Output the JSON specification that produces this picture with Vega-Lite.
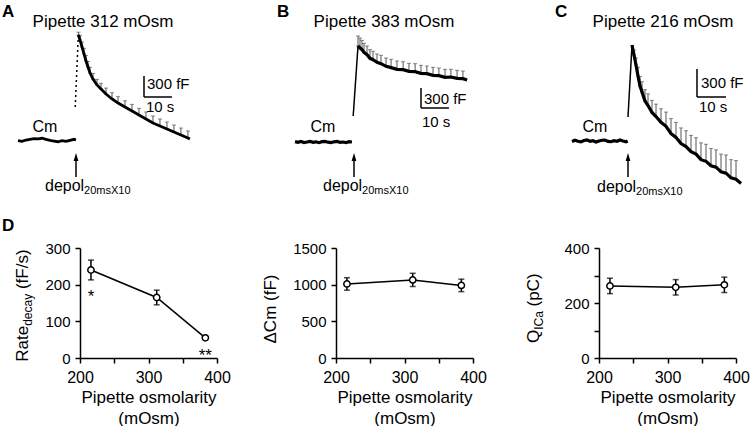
{
"$schema": "https://vega.github.io/schema/vega-lite/v6.json",
"padding": {"left": 2, "top": 3, "right": 0, "bottom": 0},
"autosize": {"type": "pad"},
"config": {
  "font": "Liberation Sans",
  "view": {"stroke": null},
  "axis": {"grid": false, "domainColor": "black", "domainWidth": 1.5, "tickColor": "black", "tickWidth": 1.5, "tickSize": 5, "labelColor": "black", "labelFontSize": 15, "titleColor": "black", "titleFontSize": 17, "titleFontWeight": "normal", "labelFlush": false, "labelOverlap": false},
  "axisX": {"labelFontSize": 16, "labelPadding": 6, "titlePadding": 4, "titleLineHeight": 21},
  "axisY": {"labelPadding": 5}
},
"datasets": {
  "A": [
    {"seg":"base","t":-21.18,"cm":-10},{"seg":"base","t":-19.74,"cm":-20},{"seg":"base","t":-18.31,"cm":0},{"seg":"base","t":-16.88,"cm":10},
    {"seg":"base","t":-15.45,"cm":20},{"seg":"base","t":-14.02,"cm":15},{"seg":"base","t":-12.59,"cm":25},{"seg":"base","t":-11.16,"cm":10},
    {"seg":"base","t":-9.73,"cm":-5},{"seg":"base","t":-8.3,"cm":-15},{"seg":"base","t":-6.87,"cm":-25},{"seg":"base","t":-5.44,"cm":-10},
    {"seg":"base","t":-4.01,"cm":-20},{"seg":"base","t":-2.58,"cm":-5},{"seg":"base","t":-1.15,"cm":10},{"seg":"base","t":-0.43,"cm":0},
    {"seg":"jump","t":-0.7,"cm":471},{"seg":"jump","t":0.4,"cm":1500},
    {"seg":"decay","t":0.46,"cm":1500,"hi":1540},{"seg":"decay","t":1.0,"cm":1429,"hi":1489},{"seg":"decay","t":1.72,"cm":1329,"hi":1399},
    {"seg":"decay","t":2.43,"cm":1229,"hi":1309},{"seg":"decay","t":3.15,"cm":1129,"hi":1209},{"seg":"decay","t":3.86,"cm":1043,"hi":1123},
    {"seg":"decay","t":4.58,"cm":957,"hi":1037},{"seg":"decay","t":5.65,"cm":871,"hi":951},{"seg":"decay","t":7.08,"cm":786,"hi":866},
    {"seg":"decay","t":8.51,"cm":729,"hi":809},{"seg":"decay","t":10.3,"cm":657,"hi":742},{"seg":"decay","t":12.45,"cm":586,"hi":676},
    {"seg":"decay","t":14.6,"cm":529,"hi":619},{"seg":"decay","t":17.1,"cm":471,"hi":561},{"seg":"decay","t":19.6,"cm":414,"hi":509},
    {"seg":"decay","t":22.1,"cm":357,"hi":452},{"seg":"decay","t":24.6,"cm":300,"hi":400},{"seg":"decay","t":27.1,"cm":243,"hi":343},
    {"seg":"decay","t":29.6,"cm":200,"hi":300},{"seg":"decay","t":32.1,"cm":157,"hi":257},{"seg":"decay","t":34.6,"cm":114,"hi":214},
    {"seg":"decay","t":37.1,"cm":71,"hi":171},{"seg":"decay","t":39.6,"cm":29,"hi":129},{"seg":"decay","t":40.3,"cm":14}
  ],
  "B": [
    {"seg":"base","t":-20.66,"cm":5},{"seg":"base","t":-19.59,"cm":-5},{"seg":"base","t":-18.52,"cm":8},{"seg":"base","t":-17.44,"cm":-8},
    {"seg":"base","t":-16.37,"cm":0},{"seg":"base","t":-15.3,"cm":10},{"seg":"base","t":-14.23,"cm":-5},{"seg":"base","t":-13.15,"cm":3},
    {"seg":"base","t":-12.08,"cm":-10},{"seg":"base","t":-11.01,"cm":5},{"seg":"base","t":-9.94,"cm":8},{"seg":"base","t":-8.86,"cm":-3},
    {"seg":"base","t":-7.79,"cm":-8},{"seg":"base","t":-6.72,"cm":3},{"seg":"base","t":-5.65,"cm":10},{"seg":"base","t":-4.57,"cm":-5},
    {"seg":"base","t":-3.5,"cm":0},{"seg":"base","t":-2.43,"cm":-10},{"seg":"base","t":-1.36,"cm":5},{"seg":"base","t":-0.29,"cm":0},
    {"seg":"jump","t":0.15,"cm":390},{"seg":"jump","t":1.87,"cm":1440},
    {"seg":"decay","t":1.87,"cm":1440,"hi":1590},{"seg":"decay","t":2.58,"cm":1410,"hi":1560},{"seg":"decay","t":3.3,"cm":1385,"hi":1525},
    {"seg":"decay","t":4.01,"cm":1345,"hi":1480},{"seg":"decay","t":5.09,"cm":1310,"hi":1440},{"seg":"decay","t":6.16,"cm":1255,"hi":1385},
    {"seg":"decay","t":7.23,"cm":1235,"hi":1360},{"seg":"decay","t":8.66,"cm":1195,"hi":1320},{"seg":"decay","t":10.1,"cm":1175,"hi":1300},
    {"seg":"decay","t":11.9,"cm":1135,"hi":1260},{"seg":"decay","t":13.7,"cm":1115,"hi":1240},{"seg":"decay","t":15.8,"cm":1090,"hi":1215},
    {"seg":"decay","t":18.0,"cm":1085,"hi":1205},{"seg":"decay","t":20.1,"cm":1060,"hi":1180},{"seg":"decay","t":22.3,"cm":1055,"hi":1175},
    {"seg":"decay","t":24.4,"cm":1030,"hi":1150},{"seg":"decay","t":26.5,"cm":1025,"hi":1140},{"seg":"decay","t":28.7,"cm":1000,"hi":1120},
    {"seg":"decay","t":30.8,"cm":995,"hi":1110},{"seg":"decay","t":33.0,"cm":970,"hi":1090},{"seg":"decay","t":35.1,"cm":975,"hi":1090},
    {"seg":"decay","t":37.3,"cm":955,"hi":1075},{"seg":"decay","t":39.4,"cm":950,"hi":1065},{"seg":"decay","t":40.9,"cm":930}
  ],
  "C": [
    {"seg":"base","t":-19.31,"cm":-5},{"seg":"base","t":-18.28,"cm":8},{"seg":"base","t":-17.24,"cm":-3},{"seg":"base","t":-16.21,"cm":-10},
    {"seg":"base","t":-15.17,"cm":5},{"seg":"base","t":-14.14,"cm":12},{"seg":"base","t":-13.1,"cm":-3},{"seg":"base","t":-12.07,"cm":3},
    {"seg":"base","t":-11.03,"cm":-12},{"seg":"base","t":-10.0,"cm":0},{"seg":"base","t":-8.97,"cm":8},{"seg":"base","t":-7.93,"cm":10},
    {"seg":"base","t":-6.9,"cm":-5},{"seg":"base","t":-5.86,"cm":-8},{"seg":"base","t":-4.83,"cm":3},{"seg":"base","t":-3.79,"cm":-3},
    {"seg":"base","t":-2.76,"cm":10},{"seg":"base","t":-1.72,"cm":0},{"seg":"base","t":-0.69,"cm":-8},{"seg":"base","t":-0.1,"cm":0},
    {"seg":"jump","t":0.0,"cm":257},{"seg":"jump","t":1.38,"cm":1029},
    {"seg":"decay","t":1.38,"cm":1029},{"seg":"decay","t":2.07,"cm":921,"hi":975},{"seg":"decay","t":2.76,"cm":814,"hi":890},
    {"seg":"decay","t":3.45,"cm":696,"hi":790},{"seg":"decay","t":4.14,"cm":589,"hi":690},{"seg":"decay","t":4.83,"cm":524,"hi":635},
    {"seg":"decay","t":5.86,"cm":429,"hi":550},{"seg":"decay","t":6.9,"cm":380,"hi":505},{"seg":"decay","t":8.28,"cm":306,"hi":435},
    {"seg":"decay","t":9.66,"cm":262,"hi":395},{"seg":"decay","t":11.38,"cm":200,"hi":345},{"seg":"decay","t":13.1,"cm":158,"hi":310},
    {"seg":"decay","t":14.83,"cm":80,"hi":240},{"seg":"decay","t":16.55,"cm":38,"hi":200},{"seg":"decay","t":18.28,"cm":-28,"hi":140},
    {"seg":"decay","t":20.0,"cm":-60,"hi":110},{"seg":"decay","t":21.72,"cm":-115,"hi":60},{"seg":"decay","t":23.45,"cm":-140,"hi":35},
    {"seg":"decay","t":25.17,"cm":-200,"hi":-20},{"seg":"decay","t":26.9,"cm":-218,"hi":-35},{"seg":"decay","t":28.62,"cm":-265,"hi":-80},
    {"seg":"decay","t":30.34,"cm":-280,"hi":-95},{"seg":"decay","t":32.07,"cm":-330,"hi":-140},{"seg":"decay","t":33.79,"cm":-345,"hi":-150},
    {"seg":"decay","t":35.52,"cm":-395,"hi":-200},{"seg":"decay","t":37.24,"cm":-410,"hi":-210},{"seg":"decay","t":38.97,"cm":-455}
  ],
  "D1": [
    {"osm":216,"mean":240,"lo":213,"hi":267,"sig":"*"},
    {"osm":312,"mean":165,"lo":145,"hi":185,"sig":""},
    {"osm":383,"mean":55,"lo":52,"hi":58,"sig":"**"}
  ],
  "D2": [
    {"osm":216,"mean":1010,"lo":925,"hi":1095},
    {"osm":312,"mean":1065,"lo":975,"hi":1155},
    {"osm":383,"mean":990,"lo":905,"hi":1075}
  ],
  "D3": [
    {"osm":216,"mean":262,"lo":234,"hi":290},
    {"osm":312,"mean":257,"lo":229,"hi":285},
    {"osm":383,"mean":266,"lo":238,"hi":294}
  ]
},
"columns": 3,
"align": "each",
"bounds": "flush",
"spacing": {"row": 94, "column": 119},
"concat": [
  {
    "width": 137, "height": 119,
    "data": {"name": "A"},
    "layer": [
      {"transform": [{"filter": "isValid(datum.hi)"}],
       "mark": {"type": "errorbar", "color": "#555", "thickness": 1, "ticks": {"size": 4}},
       "encoding": {"x": {"field": "t", "type": "quantitative", "scale": {"domain": [1, 50], "nice": false, "zero": false}, "axis": null},
                    "y": {"field": "cm", "type": "quantitative", "scale": {"domain": [-200, 1500], "nice": false, "zero": false}, "axis": null},
                    "y2": {"field": "hi"}}},
      {"transform": [{"filter": "datum.seg !== 'jump'"}],
       "mark": {"type": "line", "color": "black", "strokeWidth": 2.8},
       "encoding": {"x": {"field": "t", "type": "quantitative", "scale": {"domain": [1, 50], "nice": false, "zero": false}, "axis": null},
                    "y": {"field": "cm", "type": "quantitative", "scale": {"domain": [-200, 1500], "nice": false, "zero": false}, "axis": null},
                    "detail": {"field": "seg"}}},
      {"transform": [{"filter": "datum.seg === 'jump'"}],
       "mark": {"type": "line", "color": "black", "strokeWidth": 1.5, "strokeDash": [2, 3]},
       "encoding": {"x": {"field": "t", "type": "quantitative", "axis": null},
                    "y": {"field": "cm", "type": "quantitative", "axis": null}}},
      {"data": {"values": [{}]}, "mark": {"type": "text", "fontSize": 17, "fontWeight": "bold", "align": "left", "baseline": "middle"},
       "encoding": {"x": {"datum": -26.862, "axis": null}, "y": {"datum": 1827, "axis": null}, "text": {"value": "A"}}},
      {"data": {"values": [{}]}, "mark": {"type": "text", "fontSize": 17, "align": "center", "baseline": "middle"},
       "encoding": {"x": {"datum": 9.226, "axis": null}, "y": {"datum": 1685.7, "axis": null}, "text": {"value": "Pipette 312 mOsm"}}},
      {"data": {"values": [{}]}, "mark": {"type": "text", "fontSize": 16, "align": "center", "baseline": "middle"},
       "encoding": {"x": {"datum": -11.518, "axis": null}, "y": {"datum": 185.7, "axis": null}, "text": {"value": "Cm"}}},
      {"data": {"values": [{}]}, "mark": {"type": "rule", "color": "black", "strokeWidth": 1.5},
       "encoding": {"x": {"datum": -0.431, "axis": null}, "y": {"datum": -528.6, "axis": null}, "y2": {"datum": -271.4}}},
      {"data": {"values": [{}]}, "mark": {"type": "point", "shape": "M0,-1L0.6,1L-0.6,1Z", "filled": true, "size": 64, "color": "black", "opacity": 1},
       "encoding": {"x": {"datum": -0.431, "axis": null}, "y": {"datum": -242.9, "axis": null}}},
      {"data": {"values": [{}]}, "mark": {"type": "text", "fontSize": 16, "align": "left", "baseline": "alphabetic"},
       "encoding": {"x": {"datum": -11.518, "axis": null}, "y": {"datum": -728.6, "axis": null}, "text": {"value": "depol"}}},
      {"data": {"values": [{}]}, "mark": {"type": "text", "fontSize": 11, "align": "left", "baseline": "alphabetic", "dx": 39.1, "dy": 3},
       "encoding": {"x": {"datum": -11.518, "axis": null}, "y": {"datum": -728.6, "axis": null}, "text": {"value": "20msX10"}}},
      {"data": {"values": [{}]}, "mark": {"type": "rule", "color": "black", "strokeWidth": 1.5},
       "encoding": {"x": {"datum": 23.89, "axis": null}, "y": {"datum": 614.3, "axis": null}, "y2": {"datum": 914.3}}},
      {"data": {"values": [{}]}, "mark": {"type": "rule", "color": "black", "strokeWidth": 1.5},
       "encoding": {"x": {"datum": 23.89, "axis": null}, "x2": {"datum": 33.89}, "y": {"datum": 614.3, "axis": null}}},
      {"data": {"values": [{}]}, "mark": {"type": "text", "fontSize": 15, "align": "left", "baseline": "middle"},
       "encoding": {"x": {"datum": 24.96, "axis": null}, "y": {"datum": 800, "axis": null}, "text": {"value": "300 fF"}}},
      {"data": {"values": [{}]}, "mark": {"type": "text", "fontSize": 15, "align": "left", "baseline": "middle"},
       "encoding": {"x": {"datum": 24.61, "axis": null}, "y": {"datum": 471.4, "axis": null}, "text": {"value": "10 s"}}}
    ]
  },
  {
    "width": 144, "height": 119,
    "data": {"name": "B"},
    "layer": [
      {"transform": [{"filter": "isValid(datum.hi)"}],
       "mark": {"type": "errorbar", "color": "#555", "thickness": 1, "ticks": {"size": 4}},
       "encoding": {"x": {"field": "t", "type": "quantitative", "scale": {"domain": [-6, 45.503], "nice": false, "zero": false}, "axis": null},
                    "y": {"field": "cm", "type": "quantitative", "scale": {"domain": [-180, 1605], "nice": false, "zero": false}, "axis": null},
                    "y2": {"field": "hi"}}},
      {"transform": [{"filter": "datum.seg !== 'jump'"}],
       "mark": {"type": "line", "color": "black", "strokeWidth": 3.2},
       "encoding": {"x": {"field": "t", "type": "quantitative", "scale": {"domain": [-6, 45.503], "nice": false, "zero": false}, "axis": null},
                    "y": {"field": "cm", "type": "quantitative", "scale": {"domain": [-180, 1605], "nice": false, "zero": false}, "axis": null},
                    "detail": {"field": "seg"}}},
      {"transform": [{"filter": "datum.seg === 'jump'"}],
       "mark": {"type": "line", "color": "black", "strokeWidth": 1.5},
       "encoding": {"x": {"field": "t", "type": "quantitative", "axis": null},
                    "y": {"field": "cm", "type": "quantitative", "axis": null}}},
      {"data": {"values": [{}]}, "mark": {"type": "text", "fontSize": 17, "fontWeight": "bold", "align": "left", "baseline": "middle"},
       "encoding": {"x": {"datum": -27.07, "axis": null}, "y": {"datum": 1948, "axis": null}, "text": {"value": "B"}}},
      {"data": {"values": [{}]}, "mark": {"type": "text", "fontSize": 17, "align": "center", "baseline": "middle"},
       "encoding": {"x": {"datum": 11.168, "axis": null}, "y": {"datum": 1800, "axis": null}, "text": {"value": "Pipette 383 mOsm"}}},
      {"data": {"values": [{}]}, "mark": {"type": "text", "fontSize": 16, "align": "center", "baseline": "middle"},
       "encoding": {"x": {"datum": -10.65, "axis": null}, "y": {"datum": 225, "axis": null}, "text": {"value": "Cm"}}},
      {"data": {"values": [{}]}, "mark": {"type": "rule", "color": "black", "strokeWidth": 1.5},
       "encoding": {"x": {"datum": 0.438, "axis": null}, "y": {"datum": -525, "axis": null}, "y2": {"datum": -255}}},
      {"data": {"values": [{}]}, "mark": {"type": "point", "shape": "M0,-1L0.6,1L-0.6,1Z", "filled": true, "size": 64, "color": "black", "opacity": 1},
       "encoding": {"x": {"datum": 0.438, "axis": null}, "y": {"datum": -225, "axis": null}}},
      {"data": {"values": [{}]}, "mark": {"type": "text", "fontSize": 16, "align": "left", "baseline": "alphabetic"},
       "encoding": {"x": {"datum": -10.65, "axis": null}, "y": {"datum": -735, "axis": null}, "text": {"value": "depol"}}},
      {"data": {"values": [{}]}, "mark": {"type": "text", "fontSize": 11, "align": "left", "baseline": "alphabetic", "dx": 39.1, "dy": 3},
       "encoding": {"x": {"datum": -10.65, "axis": null}, "y": {"datum": -735, "axis": null}, "text": {"value": "20msX10"}}},
      {"data": {"values": [{}]}, "mark": {"type": "rule", "color": "black", "strokeWidth": 1.5},
       "encoding": {"x": {"datum": 24.4, "axis": null}, "y": {"datum": 510, "axis": null}, "y2": {"datum": 810}}},
      {"data": {"values": [{}]}, "mark": {"type": "rule", "color": "black", "strokeWidth": 1.5},
       "encoding": {"x": {"datum": 24.4, "axis": null}, "x2": {"datum": 34.4}, "y": {"datum": 510, "axis": null}}},
      {"data": {"values": [{}]}, "mark": {"type": "text", "fontSize": 15, "align": "left", "baseline": "middle"},
       "encoding": {"x": {"datum": 25.47, "axis": null}, "y": {"datum": 645, "axis": null}, "text": {"value": "300 fF"}}},
      {"data": {"values": [{}]}, "mark": {"type": "text", "fontSize": 15, "align": "left", "baseline": "middle"},
       "encoding": {"x": {"datum": 24.76, "axis": null}, "y": {"datum": 300, "axis": null}, "text": {"value": "10 s"}}}
    ]
  },
  {
    "width": 137, "height": 119,
    "data": {"name": "C"},
    "layer": [
      {"transform": [{"filter": "isValid(datum.hi)"}],
       "mark": {"type": "errorbar", "color": "#555", "thickness": 1, "ticks": {"size": 4}},
       "encoding": {"x": {"field": "t", "type": "quantitative", "scale": {"domain": [-10, 37.24], "nice": false, "zero": false}, "axis": null},
                    "y": {"field": "cm", "type": "quantitative", "scale": {"domain": [-139.3, 1135.7], "nice": false, "zero": false}, "axis": null},
                    "y2": {"field": "hi"}}},
      {"transform": [{"filter": "datum.seg !== 'jump'"}],
       "mark": {"type": "line", "color": "black", "strokeWidth": 3.2},
       "encoding": {"x": {"field": "t", "type": "quantitative", "scale": {"domain": [-10, 37.24], "nice": false, "zero": false}, "axis": null},
                    "y": {"field": "cm", "type": "quantitative", "scale": {"domain": [-139.3, 1135.7], "nice": false, "zero": false}, "axis": null},
                    "detail": {"field": "seg"}}},
      {"transform": [{"filter": "datum.seg === 'jump'"}],
       "mark": {"type": "line", "color": "black", "strokeWidth": 1.5},
       "encoding": {"x": {"field": "t", "type": "quantitative", "axis": null},
                    "y": {"field": "cm", "type": "quantitative", "axis": null}}},
      {"data": {"values": [{}]}, "mark": {"type": "text", "fontSize": 17, "fontWeight": "bold", "align": "left", "baseline": "middle"},
       "encoding": {"x": {"datum": -25.17, "axis": null}, "y": {"datum": 1380, "axis": null}, "text": {"value": "C"}}},
      {"data": {"values": [{}]}, "mark": {"type": "text", "fontSize": 17, "align": "center", "baseline": "middle"},
       "encoding": {"x": {"datum": 12.07, "axis": null}, "y": {"datum": 1275, "axis": null}, "text": {"value": "Pipette 216 mOsm"}}},
      {"data": {"values": [{}]}, "mark": {"type": "text", "fontSize": 16, "align": "center", "baseline": "middle"},
       "encoding": {"x": {"datum": -11.38, "axis": null}, "y": {"datum": 150, "axis": null}, "text": {"value": "Cm"}}},
      {"data": {"values": [{}]}, "mark": {"type": "rule", "color": "black", "strokeWidth": 1.5},
       "encoding": {"x": {"datum": 0, "axis": null}, "y": {"datum": -385.7, "axis": null}, "y2": {"datum": -192.9}}},
      {"data": {"values": [{}]}, "mark": {"type": "point", "shape": "M0,-1L0.6,1L-0.6,1Z", "filled": true, "size": 64, "color": "black", "opacity": 1},
       "encoding": {"x": {"datum": 0, "axis": null}, "y": {"datum": -171.4, "axis": null}}},
      {"data": {"values": [{}]}, "mark": {"type": "text", "fontSize": 16, "align": "left", "baseline": "alphabetic"},
       "encoding": {"x": {"datum": -10.69, "axis": null}, "y": {"datum": -546.4, "axis": null}, "text": {"value": "depol"}}},
      {"data": {"values": [{}]}, "mark": {"type": "text", "fontSize": 11, "align": "left", "baseline": "alphabetic", "dx": 39.1, "dy": 3},
       "encoding": {"x": {"datum": -10.69, "axis": null}, "y": {"datum": -546.4, "axis": null}, "text": {"value": "20msX10"}}},
      {"data": {"values": [{}]}, "mark": {"type": "rule", "color": "black", "strokeWidth": 1.5},
       "encoding": {"x": {"datum": 23.79, "axis": null}, "y": {"datum": 471.4, "axis": null}, "y2": {"datum": 771.4}}},
      {"data": {"values": [{}]}, "mark": {"type": "rule", "color": "black", "strokeWidth": 1.5},
       "encoding": {"x": {"datum": 23.79, "axis": null}, "x2": {"datum": 33.79}, "y": {"datum": 471.4, "axis": null}}},
      {"data": {"values": [{}]}, "mark": {"type": "text", "fontSize": 15, "align": "left", "baseline": "middle"},
       "encoding": {"x": {"datum": 25.17, "axis": null}, "y": {"datum": 621.4, "axis": null}, "text": {"value": "300 fF"}}},
      {"data": {"values": [{}]}, "mark": {"type": "text", "fontSize": 15, "align": "left", "baseline": "middle"},
       "encoding": {"x": {"datum": 24.48, "axis": null}, "y": {"datum": 364.3, "axis": null}, "text": {"value": "10 s"}}}
    ]
  },
  {
    "width": 137, "height": 110,
    "data": {"name": "D1"},
    "layer": [
      {"mark": {"type": "line", "color": "black", "strokeWidth": 1.5},
       "encoding": {"x": {"field": "osm", "type": "quantitative", "scale": {"domain": [200, 400], "nice": false, "zero": false},
                          "axis": {"values": [200, 250, 300, 350, 400], "labelExpr": "datum.value % 100 === 0 ? datum.label : ''", "title": ["Pipette osmolarity", "(mOsm)"]}},
                    "y": {"field": "mean", "type": "quantitative", "scale": {"domain": [0, 300], "nice": false, "zero": false},
                          "axis": {"values": [0, 100, 200, 300], "format": "d", "labelExpr": "datum.label", "title": null}}}},
      {"mark": {"type": "errorbar", "color": "black", "thickness": 1.5, "ticks": {"size": 6}},
       "encoding": {"x": {"field": "osm", "type": "quantitative", "axis": {"values": [200, 250, 300, 350, 400], "labelExpr": "datum.value % 100 === 0 ? datum.label : ''", "title": ["Pipette osmolarity", "(mOsm)"]}},
                    "y": {"field": "lo", "type": "quantitative", "axis": {"values": [0, 100, 200, 300], "format": "d", "labelExpr": "datum.label", "title": null}},
                    "y2": {"field": "hi"}}},
      {"mark": {"type": "point", "shape": "circle", "filled": true, "fill": "white", "stroke": "black", "strokeWidth": 1.5, "size": 40, "opacity": 1},
       "encoding": {"x": {"field": "osm", "type": "quantitative", "axis": {"values": [200, 250, 300, 350, 400], "labelExpr": "datum.value % 100 === 0 ? datum.label : ''", "title": ["Pipette osmolarity", "(mOsm)"]}},
                    "y": {"field": "mean", "type": "quantitative", "axis": {"values": [0, 100, 200, 300], "format": "d", "labelExpr": "datum.label", "title": null}}}},
      {"mark": {"type": "text", "fontSize": 17, "align": "center", "baseline": "alphabetic", "dy": 22},
       "encoding": {"x": {"field": "osm", "type": "quantitative", "axis": {"values": [200, 250, 300, 350, 400], "labelExpr": "datum.value % 100 === 0 ? datum.label : ''", "title": ["Pipette osmolarity", "(mOsm)"]}},
                    "y": {"field": "lo", "type": "quantitative", "axis": {"values": [0, 100, 200, 300], "format": "d", "labelExpr": "datum.label", "title": null}},
                    "text": {"field": "sig"}}},
      {"data": {"values": [{}]}, "mark": {"type": "text", "fontSize": 17, "fontWeight": "bold", "align": "left", "baseline": "middle"},
       "encoding": {"x": {"datum": 86.3, "axis": {"values": [200, 250, 300, 350, 400], "labelExpr": "datum.value % 100 === 0 ? datum.label : ''", "title": ["Pipette osmolarity", "(mOsm)"]}},
                    "y": {"datum": 360, "axis": {"values": [0, 100, 200, 300], "format": "d", "labelExpr": "datum.label", "title": null}}, "text": {"value": "D"}}},
      {"data": {"values": [{}]}, "mark": {"type": "text", "fontSize": 17, "angle": 270, "align": "left", "baseline": "alphabetic"},
       "encoding": {"x": {"datum": 124.1, "axis": {"values": [200, 250, 300, 350, 400], "labelExpr": "datum.value % 100 === 0 ? datum.label : ''", "title": ["Pipette osmolarity", "(mOsm)"]}},
                    "y": {"datum": -10.1, "axis": {"values": [0, 100, 200, 300], "format": "d", "labelExpr": "datum.label", "title": null}}, "text": {"value": "Rate"}}},
      {"data": {"values": [{}]}, "mark": {"type": "text", "fontSize": 12, "angle": 270, "align": "left", "baseline": "alphabetic", "dx": 35.9, "dy": 4},
       "encoding": {"x": {"datum": 124.1, "axis": {"values": [200, 250, 300, 350, 400], "labelExpr": "datum.value % 100 === 0 ? datum.label : ''", "title": ["Pipette osmolarity", "(mOsm)"]}},
                    "y": {"datum": -10.1, "axis": {"values": [0, 100, 200, 300], "format": "d", "labelExpr": "datum.label", "title": null}}, "text": {"value": "decay"}}},
      {"data": {"values": [{}]}, "mark": {"type": "text", "fontSize": 17, "angle": 270, "align": "left", "baseline": "alphabetic", "dx": 72.6},
       "encoding": {"x": {"datum": 124.1, "axis": {"values": [200, 250, 300, 350, 400], "labelExpr": "datum.value % 100 === 0 ? datum.label : ''", "title": ["Pipette osmolarity", "(mOsm)"]}},
                    "y": {"datum": -10.1, "axis": {"values": [0, 100, 200, 300], "format": "d", "labelExpr": "datum.label", "title": null}}, "text": {"value": "(fF/s)"}}}
    ]
  },
  {
    "width": 137, "height": 110,
    "data": {"name": "D2"},
    "layer": [
      {"mark": {"type": "line", "color": "black", "strokeWidth": 1.5},
       "encoding": {"x": {"field": "osm", "type": "quantitative", "scale": {"domain": [200, 400], "nice": false, "zero": false},
                          "axis": {"values": [200, 250, 300, 350, 400], "labelExpr": "datum.value % 100 === 0 ? datum.label : ''", "title": ["Pipette osmolarity", "(mOsm)"]}},
                    "y": {"field": "mean", "type": "quantitative", "scale": {"domain": [0, 1500], "nice": false, "zero": false},
                          "axis": {"values": [0, 500, 1000, 1500], "format": "d", "labelExpr": "datum.label", "title": null}}}},
      {"mark": {"type": "errorbar", "color": "black", "thickness": 1.5, "ticks": {"size": 6}},
       "encoding": {"x": {"field": "osm", "type": "quantitative", "axis": {"values": [200, 250, 300, 350, 400], "labelExpr": "datum.value % 100 === 0 ? datum.label : ''", "title": ["Pipette osmolarity", "(mOsm)"]}},
                    "y": {"field": "lo", "type": "quantitative", "axis": {"values": [0, 500, 1000, 1500], "format": "d", "labelExpr": "datum.label", "title": null}},
                    "y2": {"field": "hi"}}},
      {"mark": {"type": "point", "shape": "circle", "filled": true, "fill": "white", "stroke": "black", "strokeWidth": 1.5, "size": 40, "opacity": 1},
       "encoding": {"x": {"field": "osm", "type": "quantitative", "axis": {"values": [200, 250, 300, 350, 400], "labelExpr": "datum.value % 100 === 0 ? datum.label : ''", "title": ["Pipette osmolarity", "(mOsm)"]}},
                    "y": {"field": "mean", "type": "quantitative", "axis": {"values": [0, 500, 1000, 1500], "format": "d", "labelExpr": "datum.label", "title": null}}}},
      {"data": {"values": [{}]}, "mark": {"type": "text", "fontSize": 17, "angle": 270, "align": "left", "baseline": "alphabetic"},
       "encoding": {"x": {"datum": 112.4, "axis": {"values": [200, 250, 300, 350, 400], "labelExpr": "datum.value % 100 === 0 ? datum.label : ''", "title": ["Pipette osmolarity", "(mOsm)"]}},
                    "y": {"datum": 197.7, "axis": {"values": [0, 500, 1000, 1500], "format": "d", "labelExpr": "datum.label", "title": null}}, "text": {"value": "ΔCm (fF)"}}}
    ]
  },
  {
    "width": 137, "height": 110,
    "data": {"name": "D3"},
    "layer": [
      {"mark": {"type": "line", "color": "black", "strokeWidth": 1.5},
       "encoding": {"x": {"field": "osm", "type": "quantitative", "scale": {"domain": [200, 400], "nice": false, "zero": false},
                          "axis": {"values": [200, 250, 300, 350, 400], "labelExpr": "datum.value % 100 === 0 ? datum.label : ''", "title": ["Pipette osmolarity", "(mOsm)"]}},
                    "y": {"field": "mean", "type": "quantitative", "scale": {"domain": [0, 400], "nice": false, "zero": false},
                          "axis": {"values": [0, 100, 200, 300, 400], "format": "d", "labelExpr": "datum.value % 200 === 0 ? datum.label : ''", "title": null}}}},
      {"mark": {"type": "errorbar", "color": "black", "thickness": 1.5, "ticks": {"size": 6}},
       "encoding": {"x": {"field": "osm", "type": "quantitative", "axis": {"values": [200, 250, 300, 350, 400], "labelExpr": "datum.value % 100 === 0 ? datum.label : ''", "title": ["Pipette osmolarity", "(mOsm)"]}},
                    "y": {"field": "lo", "type": "quantitative", "axis": {"values": [0, 100, 200, 300, 400], "format": "d", "labelExpr": "datum.value % 200 === 0 ? datum.label : ''", "title": null}},
                    "y2": {"field": "hi"}}},
      {"mark": {"type": "point", "shape": "circle", "filled": true, "fill": "white", "stroke": "black", "strokeWidth": 1.5, "size": 40, "opacity": 1},
       "encoding": {"x": {"field": "osm", "type": "quantitative", "axis": {"values": [200, 250, 300, 350, 400], "labelExpr": "datum.value % 100 === 0 ? datum.label : ''", "title": ["Pipette osmolarity", "(mOsm)"]}},
                    "y": {"field": "mean", "type": "quantitative", "axis": {"values": [0, 100, 200, 300, 400], "format": "d", "labelExpr": "datum.value % 200 === 0 ? datum.label : ''", "title": null}}}},
      {"data": {"values": [{}]}, "mark": {"type": "text", "fontSize": 17, "angle": 270, "align": "left", "baseline": "alphabetic"},
       "encoding": {"x": {"datum": 113.1, "axis": {"values": [200, 250, 300, 350, 400], "labelExpr": "datum.value % 100 === 0 ? datum.label : ''", "title": ["Pipette osmolarity", "(mOsm)"]}},
                    "y": {"datum": 54.5, "axis": {"values": [0, 100, 200, 300, 400], "format": "d", "labelExpr": "datum.value % 200 === 0 ? datum.label : ''", "title": null}}, "text": {"value": "Q"}}},
      {"data": {"values": [{}]}, "mark": {"type": "text", "fontSize": 12, "angle": 270, "align": "left", "baseline": "alphabetic", "dx": 13.2, "dy": 4},
       "encoding": {"x": {"datum": 113.1, "axis": {"values": [200, 250, 300, 350, 400], "labelExpr": "datum.value % 100 === 0 ? datum.label : ''", "title": ["Pipette osmolarity", "(mOsm)"]}},
                    "y": {"datum": 54.5, "axis": {"values": [0, 100, 200, 300, 400], "format": "d", "labelExpr": "datum.value % 200 === 0 ? datum.label : ''", "title": null}}, "text": {"value": "ICa"}}},
      {"data": {"values": [{}]}, "mark": {"type": "text", "fontSize": 17, "angle": 270, "align": "left", "baseline": "alphabetic", "dx": 36.6},
       "encoding": {"x": {"datum": 113.1, "axis": {"values": [200, 250, 300, 350, 400], "labelExpr": "datum.value % 100 === 0 ? datum.label : ''", "title": ["Pipette osmolarity", "(mOsm)"]}},
                    "y": {"datum": 54.5, "axis": {"values": [0, 100, 200, 300, 400], "format": "d", "labelExpr": "datum.value % 200 === 0 ? datum.label : ''", "title": null}}, "text": {"value": "(pC)"}}}
    ]
  }
]
}
